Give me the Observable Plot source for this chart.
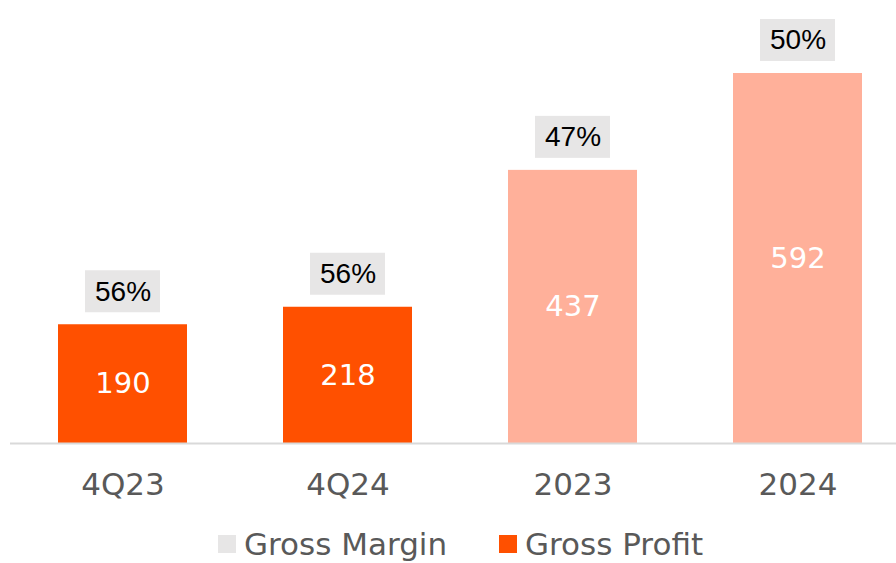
<!DOCTYPE html>
<html>
<head>
<meta charset="utf-8">
<script src="https://cdn.jsdelivr.net/npm/d3@7"></script>
<script src="https://cdn.jsdelivr.net/npm/@observablehq/plot@0.6"></script>
<style>
  html, body { margin: 0; padding: 0; background: #fff; overflow: hidden; }
  #chart svg { display: block; }
  .legend { display: flex; align-items: center; height: 40px; padding-left: 218px; padding-top: 12px;
    font-family: "DejaVu Sans", sans-serif; font-size: 31px; line-height: 36px; color: #595959; }
  .legend .sw { width: 18px; height: 18px; display: inline-block; margin-right: 8px; }
  .legend .item { display: flex; align-items: center; }
  .legend .item:first-child { width: 281px; }
</style>
</head>
<body>
<div id="chart"></div>
<div class="legend">
  <span class="item"><span class="sw" style="background:#E7E6E6"></span>Gross Margin</span>
  <span class="item"><span class="sw" style="background:#FF5000"></span>Gross Profit</span>
</div>
<script>
const categories = ["4Q23", "4Q24", "2023", "2024"];
const grossProfit = [190, 218, 437, 592];
const grossMargin = [56, 56, 47, 50];
const periodType = ["quarter", "quarter", "year", "year"];

const colors = { quarter: "#FF5000", year: "#FFB09A" };

const data = categories.map((c, i) => ({
  cat: c, profit: grossProfit[i], margin: grossMargin[i], period: periodType[i]
}));

const chart = Plot.plot({
  width: 896,
  height: 512,
  marginLeft: 10,
  marginRight: 0,
  marginTop: 0,
  marginBottom: 69,
  x: { domain: categories, range: [10, 910], paddingInner: 0.4267, paddingOuter: 0.2133, axis: null },
  y: { domain: [0, 592], range: [443, 73], axis: null },
  color: { type: "identity" },
  marks: [
    Plot.barY(data, { x: "cat", y: "profit", fill: d => colors[d.period] }),
    Plot.ruleY([0], { stroke: "#D9D9D9", strokeWidth: 2 }),
    Plot.barY(data, { x: "cat", y1: "profit", y2: "profit", fill: "#E7E6E6",
      insetLeft: 27, insetRight: 27, insetTop: -54, insetBottom: 12 }),
    Plot.text(data, { x: "cat", y: "profit", dy: -33, text: d => d.margin + "%",
      fill: "#000", fontSize: 28, fontFamily: "Liberation Sans, Arial, sans-serif" }),
    Plot.text(data, { x: "cat", y: d => d.profit / 2, text: d => String(d.profit),
      fill: "#fff", fontSize: 29, fontFamily: "DejaVu Sans, sans-serif" }),
    Plot.text(data, { x: "cat", y: 0, dy: 42, text: "cat",
      fill: "#595959", fontSize: 31, fontFamily: "DejaVu Sans, sans-serif" })
  ]
});
document.getElementById("chart").appendChild(chart);
</script>
</body>
</html>
